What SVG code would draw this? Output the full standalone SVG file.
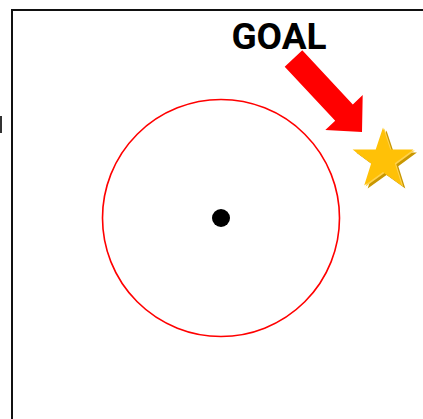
<svg xmlns="http://www.w3.org/2000/svg" width="423" height="419" viewBox="0 0 423 419">
<defs>
<style>
.frame{fill:none;stroke:#111;stroke-width:2}
.ring{fill:none;stroke:#ff0000;stroke-width:1.6}
.label{font-family:Roboto,"Liberation Sans",sans-serif;font-weight:bold;font-size:37px;fill:#000}
</style>
<polygon id="starShape" points="0,-32 7.28,-10.02 30.43,-9.89 11.78,3.83 18.81,25.89 0,12.39 -18.81,25.89 -11.78,3.83 -30.43,-9.89 -7.28,-10.02"/>
</defs>
<rect width="423" height="419" fill="#fff"/>
<rect class="frame" x="12" y="10" width="430" height="430"/>
<rect x="0" y="116" width="2" height="17" fill="#333"/>
<g id="area">
<circle class="ring" cx="221" cy="218" r="118.5"/>
</g>
<g id="center">
<circle cx="221" cy="218" r="9" fill="#000"/>
</g>
<g id="goal">
<text class="label" x="279" y="48.5" text-anchor="middle">GOAL</text>
</g>
<g id="connectors">
<polygon points="302.3,50.3 352.8,104.4 362.7,95.1 362,132 325.3,130.1 335.2,120.8 284.7,66.7" fill="#ff0000"/>
</g>
<g id="star">
<use href="#starShape" transform="translate(386.5,162.5)" fill="#c99700"/>
<use href="#starShape" transform="translate(384.5,160.5)" fill="#ffd24d"/>
<use href="#starShape" transform="translate(383,159.5)" fill="#ffc107"/>
</g>
</svg>
